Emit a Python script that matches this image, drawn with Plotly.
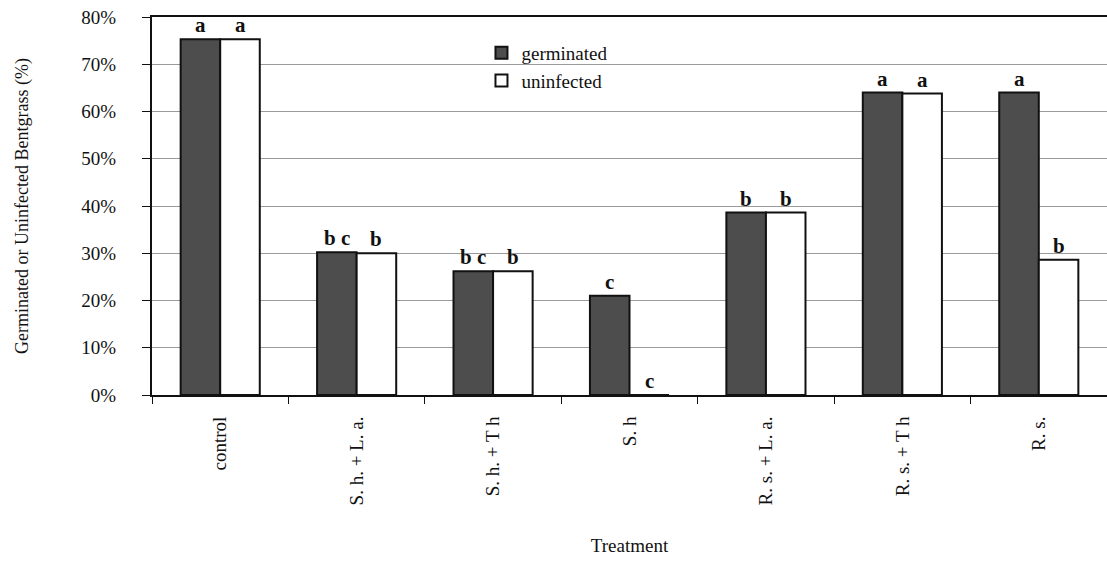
import plotly.graph_objects as go

categories = ["control", "S. h. + L. a.", "S. h. + T h", "S. h", "R. s. + L. a.", "R. s. + T h", "R. s."]
germinated = [75.3, 30.2, 26.2, 21.0, 38.6, 64.0, 64.0]
uninfected = [75.3, 30.0, 26.2, 0.0, 38.6, 63.8, 28.6]
letters_germ = ["a", "b c", "b c", "c", "b", "a", "a"]
letters_unin = ["a", "b", "b", "c", "b", "a", "b"]
y_ticks = [0, 10, 20, 30, 40, 50, 60, 70, 80]
y_tick_text = ["0%", "10%", "20%", "30%", "40%", "50%", "60%", "70%", "80%"]

SERIF = "Liberation Serif, Times New Roman, serif"

fig = go.Figure()
fig.add_trace(go.Bar(
    x=categories, y=germinated, name="germinated",
    marker=dict(color="#4d4d4d", line=dict(color="#111111", width=2)),
))
fig.add_trace(go.Bar(
    x=categories, y=uninfected, name="uninfected",
    marker=dict(color="#ffffff", line=dict(color="#111111", width=2)),
))

bargap = 0.42
half = (1 - bargap) / 4
for i, (g, u) in enumerate(zip(germinated, uninfected)):
    for val, txt, off in ((g, letters_germ[i], -half), (u, letters_unin[i], half)):
        fig.add_annotation(
            x=i + off, y=val, xref="x", yref="y", text="<b>%s</b>" % txt, showarrow=False,
            yanchor="bottom", yshift=0,
            font=dict(family=SERIF, size=21, color="#111111"),
        )

fig.update_layout(
    width=1107, height=566,
    margin=dict(l=152, r=0, t=17, b=171),
    paper_bgcolor="white", plot_bgcolor="white",
    barmode="group", bargap=bargap, bargroupgap=0,
    showlegend=True,
    legend=dict(
        x=0.345, y=0.955, xanchor="left", yanchor="top",
        font=dict(family=SERIF, size=19, color="#111111"),
        bgcolor="rgba(0,0,0,0)", tracegroupgap=4,
    ),
    font=dict(family=SERIF, color="#111111"),
    xaxis=dict(
        type="category",
        showline=True, linecolor="#111111", linewidth=2, mirror=True,
        ticks="outside", tickson="boundaries", ticklen=7, tickcolor="#111111",
        tickangle=-90, tickfont=dict(family=SERIF, size=19),
        ticklabelstandoff=12,
        title=dict(text="Treatment", font=dict(family=SERIF, size=19), standoff=34),
        automargin=False,
    ),
    yaxis=dict(
        range=[0, 80], tickvals=y_ticks, ticktext=y_tick_text,
        showline=True, linecolor="#111111", linewidth=2,
        ticks="outside", ticklen=8, tickcolor="#111111",
        showgrid=True, gridcolor="#9a9a9a", gridwidth=1,
        tickfont=dict(family=SERIF, size=19),
        ticklabelstandoff=22,
        title=dict(text="Germinated or Uninfected Bentgrass (%)", font=dict(family=SERIF, size=18), standoff=48),
        automargin=False, zeroline=False,
    ),
)

fig.write_html("out.html")
